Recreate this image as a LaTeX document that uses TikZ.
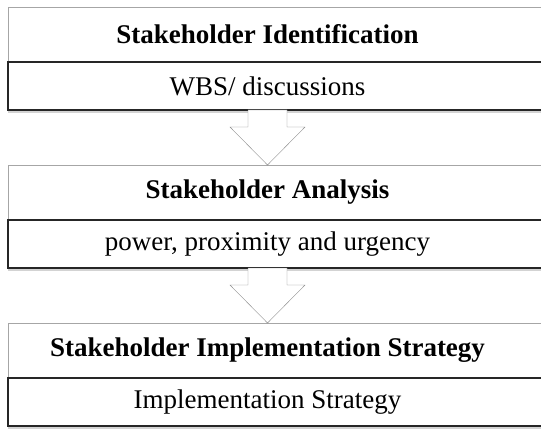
\documentclass[tikz,border=0pt]{standalone}
\usepackage{fontspec}
\setmainfont{Liberation Serif}
\usetikzlibrary{shapes,shadows,calc}
\usetikzlibrary{positioning}
\tikzset{every node/.style={font=\fontsize{27}{32}\selectfont},
	node distance=55pt}

\begin{document}
\begin{tikzpicture}[x=1pt,y=1pt,node distance=55pt]

		\tikzstyle{head box}=[rectangle,draw=black!35,fill=white,thin,minimum width=552pt,minimum height=55pt,inner sep=0pt,outer sep=0pt]
		\tikzstyle{info box}=[rectangle,draw=black!85,line width=1.1pt,fill=white,minimum width=552pt,minimum height=48pt,inner sep=0pt,outer sep=0pt,drop shadow={shadow xshift=0pt,shadow yshift=-3pt,opacity=.35}]
		\tikzstyle{step arrow}=[draw=black!45,fill=white,thin,line join=miter]
		\tikzstyle{heading}=[xshift=-16.5pt,font=\fontsize{27}{32}\selectfont\bfseries]
		\tikzstyle{detail}=[xshift=-16.5pt]

		\useasboundingbox (0,0) rectangle (541,429);

		% three stages, each a heading over a detail line
		\node[head box, anchor=north west, label={[heading]center:Stakeholder Identification}] (ident) at (8,422) {};
		\node[info box, below=0pt of ident, label={[detail]center:WBS/ discussions}] (identsub) {};

		\node[head box, below=of identsub, label={[heading]center:Stakeholder Analysis}] (anal) {};
		\node[info box, below=0pt of anal, label={[detail]center:{power, proximity and urgency}}] (analsub) {};

		\node[head box, below=of analsub, label={[heading]center:Stakeholder Implementation Strategy}] (impl) {};
		\node[info box, below=0pt of impl, label={[detail]center:Implementation Strategy}] (implsub) {};

		% block arrows between the stages
		\coordinate (tail1) at ($(identsub.south)+(-16.5,0)$);
		\coordinate (tip1) at ($(anal.north)+(-16.5,0)$);
		\coordinate (tail2) at ($(analsub.south)+(-16.5,0)$);
		\coordinate (tip2) at ($(impl.north)+(-16.5,0)$);

		\draw[step arrow] (tail1) ++(-19.5,0) -- ++(0,-17) -- ++(-18,0) -- (tip1) -- ++(37.5,38) -- ++(-18,0) -- ++(0,17) -- cycle;
		\draw[step arrow] (tail2) ++(-19.5,0) -- ++(0,-17) -- ++(-18,0) -- (tip2) -- ++(37.5,38) -- ++(-18,0) -- ++(0,17) -- cycle;

	\end{tikzpicture}
\end{document}
